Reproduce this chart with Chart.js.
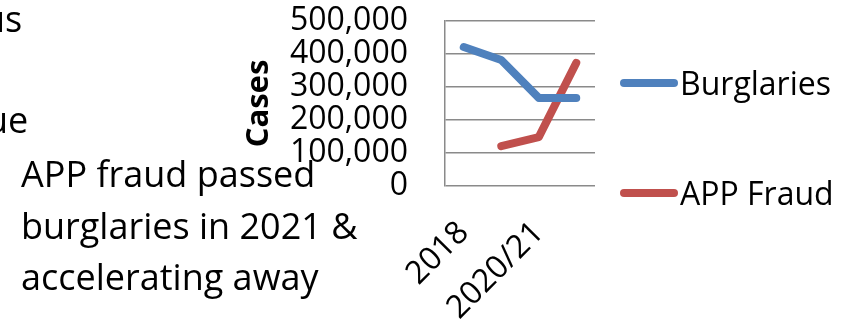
<!DOCTYPE html>
<html>
<head>
<meta charset="utf-8">
<script src="https://cdn.jsdelivr.net/npm/chart.js@4.4.1/dist/chart.umd.min.js"></script>
<style>
  body { margin: 0; width: 851px; height: 327px; overflow: hidden; background: #fff; position: relative; font-family: "Open Sans", sans-serif; }
  #myChart { position: absolute; left: 0; top: 0; }
  .note { position: absolute; font-size: 36px; color: #000; white-space: nowrap; }
</style>
</head>
<body>
<canvas id="myChart" width="851" height="327"></canvas>
<div class="note" style="left:-17px; top:-6px;">us</div>
<div class="note" style="left:-14px; top:95px;">ue</div>
<div class="note" style="left:21px; top:148px; line-height:51.5px;">APP fraud passed<br>burglaries in 2021 &amp;<br>accelerating away</div>
<script>
// chart data
var categories = ["2018", "2019", "2020/21", "2021/22"];
var burglaries = [421000, 382000, 267000, 267000];
var appFraud = [null, 121000, 148000, 373000];
var seriesNames = ["Burglaries", "APP Fraud"];
var yTicks = [0, 100000, 200000, 300000, 400000, 500000];

var blue = "#4F81BD";
var red = "#C0504D";
var gridGrey = "#8a8a8a";
var font = "Open Sans";

// legend drawn beside the plot, one row per dataset
var sideLegend = {
  id: "sideLegend",
  afterDraw: function(chart) {
    var ctx = chart.ctx;
    var rows = [83, 193];
    ctx.save();
    chart.data.datasets.forEach(function(ds, i) {
      var y = rows[i];
      ctx.strokeStyle = ds.borderColor;
      ctx.lineWidth = 8;
      ctx.lineCap = "round";
      ctx.beginPath();
      ctx.moveTo(624, y);
      ctx.lineTo(674, y);
      ctx.stroke();
      ctx.fillStyle = "#000";
      ctx.font = "32px '" + font + "'";
      ctx.textBaseline = "alphabetic";
      ctx.fillText(ds.label, 680, y + 12);
    });
    ctx.restore();
  }
};

var ctx = document.getElementById("myChart").getContext("2d");
var myChart = new Chart(ctx, {
  type: "line",
  data: {
    labels: categories,
    datasets: [{
      label: seriesNames[0],
      data: burglaries,
      borderColor: blue,
      backgroundColor: blue,
      borderWidth: 8,
      borderCapStyle: "round",
      borderJoinStyle: "round",
      pointRadius: 0,
      tension: 0
    }, {
      label: seriesNames[1],
      data: appFraud,
      borderColor: red,
      backgroundColor: red,
      borderWidth: 8,
      borderCapStyle: "round",
      borderJoinStyle: "round",
      pointRadius: 0,
      tension: 0
    }]
  },
  options: {
    responsive: false,
    animation: false,
    layout: { padding: { top: 21, right: 256, left: 0, bottom: 0 } },
    plugins: {
      legend: { display: false },
      tooltip: { enabled: false }
    },
    scales: {
      x: {
        offset: true,
        grid: { display: false },
        border: { display: false },
        ticks: {
          autoSkip: false,
          minRotation: 45,
          maxRotation: 45,
          padding: 20,
          color: "#000",
          font: { family: font, size: 32 },
          callback: function(v, i) { return i % 2 === 0 ? this.getLabelForValue(v) : ""; }
        },
        afterFit: function(scale) { scale.height = 141; }
      },
      y: {
        min: 0,
        max: 500000,
        afterBuildTicks: function(scale) {
          scale.ticks = yTicks.map(function(v) { return { value: v }; });
        },
        ticks: {
          autoSkip: false,
          padding: 37,
          color: "#000",
          font: { family: font, size: 32 },
          callback: function(v) { return v.toLocaleString("en-US"); }
        },
        grid: { color: gridGrey, lineWidth: 1.5, drawTicks: false },
        border: { color: gridGrey, width: 1.5 },
        title: {
          display: true,
          text: "Cases",
          color: "#000",
          font: { family: font, size: 31, weight: "bold" },
          padding: { top: 241, bottom: 0 }
        },
        afterFit: function(scale) {
          scale.width = 445;
          // tick padding would otherwise push the plot top down
          scale.paddingTop = 0;
          scale.paddingBottom = 0;
        }
      }
    }
  },
  plugins: [sideLegend]
});
</script>
</body>
</html>
